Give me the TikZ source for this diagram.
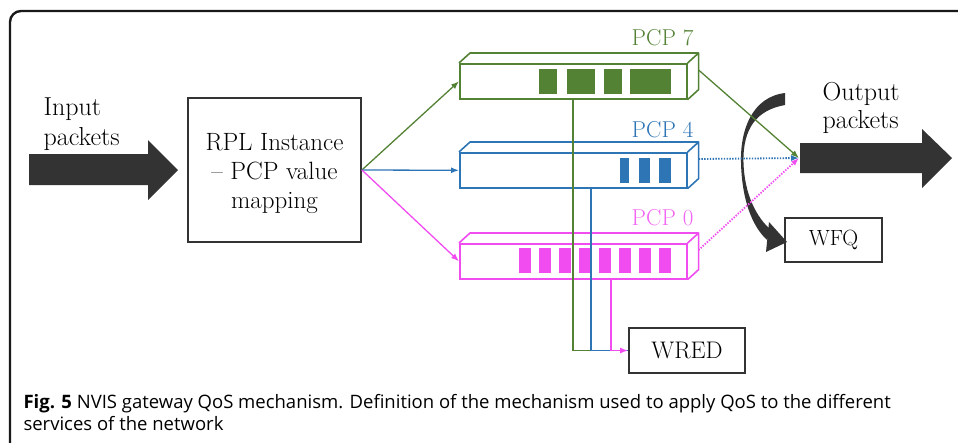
\documentclass[tikz,border=0pt]{standalone}
\usepackage{fontspec}
\newfontfamily\capfont{Open Sans}
\usetikzlibrary{arrows.meta,calc}
\definecolor{qgreen}{HTML}{548235}
\definecolor{qblue}{HTML}{2E75B6}
\definecolor{qpink}{HTML}{F04CF0}
\definecolor{qdark}{HTML}{333333}
\begin{document}
\begin{tikzpicture}[x=1pt,y=-1pt,
  serif/.style={font=\fontsize{#1}{29}\selectfont},
  plainbox/.style={draw=qdark,line width=1.8pt,fill=white,inner sep=0pt},
  queuefront/.style={draw=#1,line width=1.6pt,minimum width=227pt,minimum height=35pt,inner sep=0pt,anchor=north west},
  link/.style={line width=1.3pt,-{Latex[length=8pt,width=6pt]}},
  dotlink/.style={line width=1.8pt,dash pattern=on 1.4pt off 1.4pt,-{Latex[length=8pt,width=6pt]}},
  bigarrow/.style={fill=qdark,draw=none}]
\useasboundingbox (0,0) rectangle (958,442);

% outer frame, open to the right and bottom
\draw[line width=2.4pt,color=black!90,rounded corners=11pt] (10,450) -- (10,11) -- (970,11);

% input and output arrows
\fill[bigarrow] (29,154) -- (148,154) -- (148,140) -- (178,170) -- (148,200) -- (148,185) -- (29,185) -- cycle;
\fill[bigarrow] (800,143) -- (922,143) -- (922,129) -- (952,158) -- (922,188) -- (922,173) -- (800,173) -- cycle;
\coordinate (outtail) at (799,158);

% (base anchor of a multi-line node sits on its last line)
\node[font=\fontsize{26}{30}\selectfont,anchor=base west,align=left] (inlbl) at (40,145) {Input\\packets};
\node[font=\fontsize{26}{28}\selectfont,anchor=base west,align=left] (outlbl) at (819,128) {Output\\packets};

% classification box
\node[plainbox,minimum width=173pt,minimum height=144pt] (rpl) at (274.5,170) {};
\node[align=center,font=\fontsize{25}{29}\selectfont] (rpltext) at ($(rpl.center)+(0,4)$) {RPL Instance\\-- PCP value\\mapping};

% the three priority queues
\node[queuefront=qgreen] (q7) at (459,63) {};
\node[queuefront=qblue]  (q4) at (459,152) {};
\node[queuefront=qpink]  (q0) at (459,243) {};
\foreach \q/\c in {q7/qgreen,q4/qblue,q0/qpink}{
  \draw[\c,line width=1.6pt,line join=round]
    (\q.north west) -- ++(11,-10) -- ($(\q.north east)+(11,-10)$) -- (\q.north east)
    ($(\q.north east)+(11,-10)$) -- ($(\q.south east)+(11,-10)$) -- (\q.south east);
}
% packets waiting in each queue
\foreach \a/\b in {539/557,567/595,604/622,630/671}
  \fill[qgreen] (\a,69) rectangle (\b,94);
\foreach \a/\b in {620/629,639/650,659/671}
  \fill[qblue] (\a,158) rectangle (\b,183);
\foreach \a in {519,539,...,659}
  \fill[qpink] (\a,248) rectangle (\a+12,273);

\node[serif=23,text=qgreen,anchor=base east] (l7) at (697,45) {PCP 7};
\node[serif=23,text=qblue,anchor=base east]  (l4) at (697,137) {PCP 4};
\node[serif=23,text=qpink!85,anchor=base east]  (l0) at (697,225) {PCP 0};

% classifier to queues
\draw[link,qgreen] (rpl.east) -- (q7.west);
\draw[link,qblue]  (rpl.east) -- (q4.west);
\draw[link,qpink]  (rpl.east) -- (q0.west);

% drop policy
\node[plainbox,minimum width=116pt,minimum height=45pt,serif=24] (wred) at (687,350.5) {WRED};
\draw[qgreen,line width=1.3pt] (q7.south west) ++(114,0) |- (wred.west);
\draw[qblue,line width=1.3pt]  (q4.south west) ++(132,0) |- (wred.west);
\draw[link,qpink] (q0.south west) ++(152,0) |- (wred.west);

% scheduler
\node[plainbox,minimum width=97pt,minimum height=44pt,serif=22] (wfq) at (833.5,240) {WFQ};
\fill[qdark] (785,93) .. controls (752,97) and (740,130) .. (741,163)
  .. controls (742,200) and (752,226) .. (767,240) -- (771,230)
  .. controls (757,218) and (744.5,195) .. (743.5,163)
  .. controls (742.5,128) and (757,110) .. (785,105) -- cycle;
\fill[qdark] (769,222) -- (787,242) -- (766,252) -- cycle;

% queues to output
\draw[link,qgreen] ($(q7.north east)+(11,7)$) -- (outtail);
\draw[dotlink,qblue] ($(q4.north east)+(11,7)$) -- (outtail);
\draw[dotlink,qpink] ($(q0.north east)+(11,7)$) -- (outtail);

% caption
\node[anchor=base west,align=left,font=\capfont\fontsize{18.5}{22}\selectfont] (cap) at (20,430)
  {\textbf{Fig. 5} NVIS gateway QoS mechanism. Definition of the mechanism used to apply QoS to the different\\services of the network};
\end{tikzpicture}
\end{document}
